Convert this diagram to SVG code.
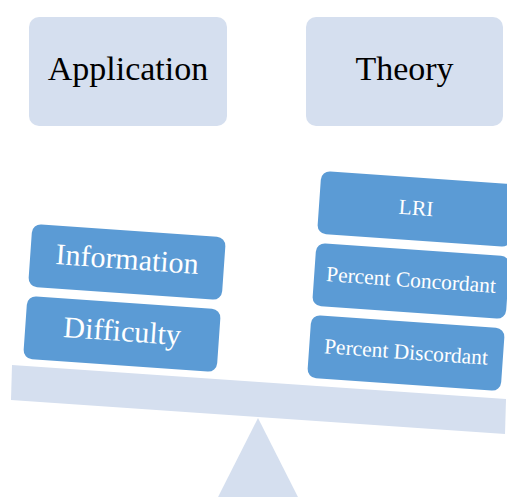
<svg xmlns="http://www.w3.org/2000/svg" width="507" height="497" viewBox="0 0 507 497">
<style>
.light{fill:#D5DFEF;}
.blue{fill:#5B9BD5;}
.t1{font-family:"Liberation Serif","Times New Roman",serif;font-size:34px;fill:#000;text-anchor:middle;}
.t2{font-family:"Liberation Serif","Times New Roman",serif;font-size:30px;fill:#fff;text-anchor:middle;}
.t3{font-family:"Liberation Serif","Times New Roman",serif;font-size:21.5px;fill:#fff;text-anchor:middle;}
</style>
<rect width="507" height="497" fill="#fff"/>
<g id="beam"><polygon class="light" points="12,365 506,399 505,434 11,400"/></g>
<g id="fulcrum"><polygon class="light" points="258,418 302,505 214,505"/></g>
<g id="application"><rect class="light" x="29" y="17" width="198" height="109" rx="10"/><text class="t1" x="128" y="80">Application</text></g>
<g id="theory"><rect class="light" x="306" y="17" width="197" height="109" rx="10"/><text class="t1" x="404.5" y="80">Theory</text></g>
<g id="connectors"></g>
<g id="information" transform="translate(127,262) rotate(4)"><rect class="blue" x="-97" y="-31.5" width="194" height="63" rx="9"/><text class="t2" x="0" y="7">Information</text></g>
<g id="difficulty" transform="translate(122,334) rotate(4)"><rect class="blue" x="-97" y="-31.5" width="194" height="63" rx="9"/><text class="t2" x="0" y="7">Difficulty</text></g>
<g id="lri" transform="translate(416,209) rotate(4)"><rect class="blue" x="-97" y="-31.5" width="194" height="63" rx="9"/><text class="t3" x="0" y="6">LRI</text></g>
<g id="concordant" transform="translate(411,281) rotate(4)"><rect class="blue" x="-97" y="-31.5" width="194" height="63" rx="9"/><text class="t3" x="0" y="6">Percent Concordant</text></g>
<g id="discordant" transform="translate(406,353) rotate(4)"><rect class="blue" x="-97" y="-31.5" width="194" height="63" rx="9"/><text class="t3" x="0" y="6">Percent Discordant</text></g>
</svg>
